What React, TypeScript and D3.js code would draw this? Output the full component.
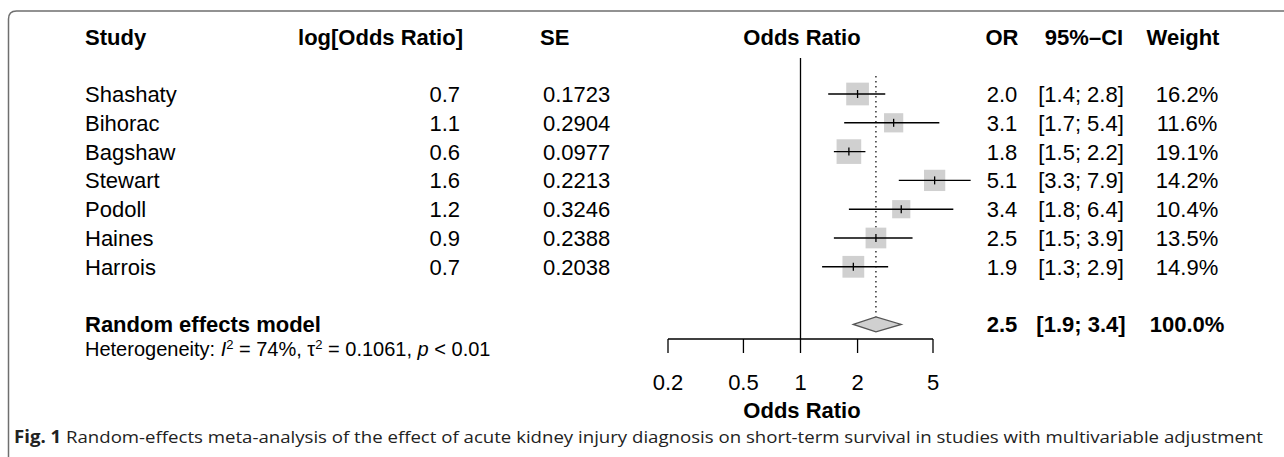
import * as d3 from 'd3';

const studies = ['Shashaty', 'Bihorac', 'Bagshaw', 'Stewart', 'Podoll', 'Haines', 'Harrois'];
const logOr = ['0.7', '1.1', '0.6', '1.6', '1.2', '0.9', '0.7'];
const seValues = ['0.1723', '0.2904', '0.0977', '0.2213', '0.3246', '0.2388', '0.2038'];
const orValues = [2.0, 3.1, 1.8, 5.1, 3.4, 2.5, 1.9];
const ciLower = [1.4, 1.7, 1.5, 3.3, 1.8, 1.5, 1.3];
const ciUpper = [2.8, 5.4, 2.2, 7.9, 6.4, 3.9, 2.9];
const weights = [16.2, 11.6, 19.1, 14.2, 10.4, 13.5, 14.9];

const pooled = { or: 2.5, lower: 1.9, upper: 3.4, weight: 100.0 };
const axisTicks = [0.2, 0.5, 1, 2, 5];

const width = 1284;
const height = 457;
const font = '"Liberation Sans", Arial, Helvetica, sans-serif';
const fs = 22;

const fmt1 = d3.format('.1f');

function App() {
  const x = d3.scaleLog().domain([0.2, 5]).range([668, 933]);
  // rows 0..6 are the studies, row 8 the pooled estimate
  const y = d3.scaleLinear().domain([0, 8]).range([94, 324.4]);
  const side = d3.scaleSqrt().domain([0, 16.2]).range([0, 22.7]);

  const axisY = 339;
  const headY = 45;
  const py = y(8);
  const diamond = `M${x(pooled.lower)},${py} L${x(pooled.or)},${py - 7.5} L${x(pooled.upper)},${py} L${x(pooled.or)},${py + 7.5} Z`;

  return (
    <svg width={width} height={height} style={{ position: 'absolute', left: 0, top: 0, background: '#fff' }}
      fontFamily={font} fontSize={fs}>
      {/* frame */}
      <path d={`M8.5,${height} V19 Q8.5,11 16.5,11 H${width}`} fill="none" stroke="#6f6f6f" strokeWidth={1.5} />

      {/* headers */}
      <g fontWeight="bold">
        <text x={85} y={headY}>Study</text>
        <text x={463} y={headY} textAnchor="end">log[Odds Ratio]</text>
        <text x={540} y={headY}>SE</text>
        <text x={802} y={headY} textAnchor="middle">Odds Ratio</text>
        <text x={1002} y={headY} textAnchor="middle">OR</text>
        <text x={1084} y={headY} textAnchor="middle">95%–CI</text>
        <text x={1183} y={headY} textAnchor="middle">Weight</text>
      </g>

      {/* reference lines */}
      <line x1={x(1)} x2={x(1)} y1={58} y2={axisY} stroke="#000" strokeWidth={1.3} />
      <line x1={x(pooled.or)} x2={x(pooled.or)} y1={76} y2={py - 8} stroke="#000" strokeWidth={1.2} strokeDasharray="1.5,3.5" />

      {/* study rows */}
      {studies.map((s, i) => {
        const cy = y(i);
        const w = side(weights[i]);
        const cx = x(orValues[i]);
        return (
          <g key={s}>
            <text x={85} y={cy + 8}>{s}</text>
            <text x={460} y={cy + 8} textAnchor="end">{logOr[i]}</text>
            <text x={543} y={cy + 8}>{seValues[i]}</text>
            <rect x={cx - w / 2} y={cy - w / 2} width={w} height={w} fill="#d0d0d0" />
            <line x1={x(ciLower[i])} x2={x(ciUpper[i])} y1={cy} y2={cy} stroke="#000" strokeWidth={1.4} />
            <line x1={cx} x2={cx} y1={cy - 4} y2={cy + 4} stroke="#000" strokeWidth={1.3} />
            <text x={1002} y={cy + 8} textAnchor="middle">{fmt1(orValues[i])}</text>
            <text x={1081} y={cy + 8} textAnchor="middle">[{fmt1(ciLower[i])}; {fmt1(ciUpper[i])}]</text>
            <text x={1187} y={cy + 8} textAnchor="middle">{fmt1(weights[i])}%</text>
          </g>
        );
      })}

      {/* pooled */}
      <path d={diamond} fill="#d0d0d0" stroke="#555" strokeWidth={1.3} />
      <g fontWeight="bold">
        <text x={85} y={py + 8}>Random effects model</text>
        <text x={1002} y={py + 8} textAnchor="middle">{fmt1(pooled.or)}</text>
        <text x={1081} y={py + 8} textAnchor="middle">[{fmt1(pooled.lower)}; {fmt1(pooled.upper)}]</text>
        <text x={1187} y={py + 8} textAnchor="middle">{fmt1(pooled.weight)}%</text>
      </g>
      <text x={85} y={py + 32} fontSize={20}>
        Heterogeneity: <tspan fontStyle="italic">I</tspan><tspan dy={-7} fontSize={13}>2</tspan>
        <tspan dy={7}> = 74%, τ</tspan><tspan dy={-7} fontSize={13}>2</tspan>
        <tspan dy={7}> = 0.1061, </tspan><tspan fontStyle="italic">p</tspan> &lt; 0.01
      </text>

      {/* axis */}
      <line x1={x(0.2)} x2={x(5)} y1={axisY} y2={axisY} stroke="#000" strokeWidth={1.3} />
      {axisTicks.map((t) => (
        <g key={t}>
          <line x1={x(t)} x2={x(t)} y1={axisY} y2={axisY + 14} stroke="#000" strokeWidth={1.3} />
          <text x={x(t)} y={390} textAnchor="middle">{String(t)}</text>
        </g>
      ))}
      <text x={802} y={418} textAnchor="middle" fontWeight="bold">Odds Ratio</text>

      {/* caption */}
      <text x={14} y={443} fontFamily='"Open Sans", sans-serif' fontSize={17} fill="#222"
        textLength={1249} lengthAdjust="spacingAndGlyphs">
        <tspan fontWeight="bold">Fig. 1</tspan>  Random-effects meta-analysis of the effect of acute kidney injury diagnosis on short-term survival in studies with multivariable adjustment
      </text>
    </svg>
  );
}

export default App;
